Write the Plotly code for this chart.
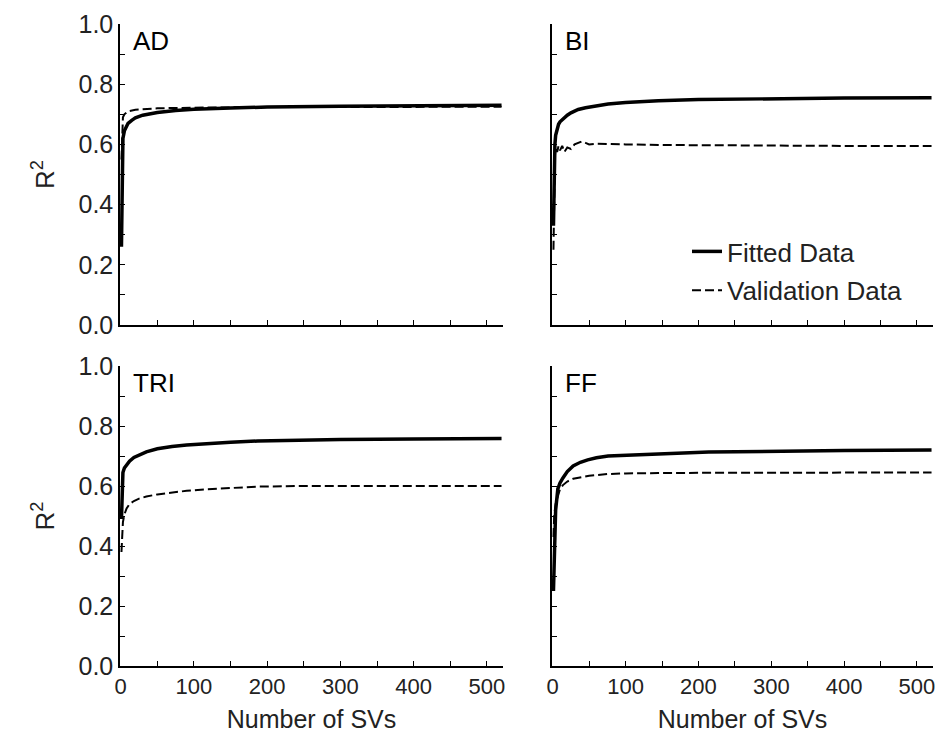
import plotly.graph_objects as go
from plotly.subplots import make_subplots

# values (number of SVs, R^2)
ad_fit_x = [1, 2, 3, 5, 7, 10, 15, 20, 30, 40, 50, 75, 100, 150, 200, 300, 400, 520]
ad_fit = [0.26, 0.50, 0.62, 0.645, 0.658, 0.67, 0.68, 0.688, 0.697, 0.702, 0.706, 0.713, 0.717,
          0.721, 0.724, 0.727, 0.729, 0.730]
ad_val_x = [1, 2, 3, 5, 10, 20, 30, 50, 100, 200, 520]
ad_val = [0.55, 0.66, 0.69, 0.70, 0.71, 0.715, 0.717, 0.72, 0.722, 0.724, 0.725]

bi_fit_x = [1, 2, 3, 4, 6, 8, 10, 14, 20, 25, 30, 35, 45, 60, 76, 100, 145, 200, 300, 400, 520]
bi_fit = [0.33, 0.52, 0.60, 0.63, 0.655, 0.667, 0.675, 0.685, 0.697, 0.705, 0.711, 0.716, 0.722,
          0.729, 0.734, 0.739, 0.745, 0.749, 0.752, 0.754, 0.755]
bi_val_x = [1, 2, 3, 4, 6, 8, 10, 13, 16, 20, 25, 30, 35, 40, 45, 50, 60, 80, 100, 150, 200, 300, 400, 520]
bi_val = [0.25, 0.45, 0.56, 0.59, 0.575, 0.595, 0.58, 0.595, 0.575, 0.59, 0.585, 0.60, 0.605, 0.61,
          0.605, 0.60, 0.602, 0.60, 0.60, 0.598, 0.597, 0.596, 0.595, 0.595]

tri_fit_x = [1, 2, 3, 5, 8, 12, 18, 25, 35, 50, 70, 90, 118, 150, 187, 250, 300, 400, 520]
tri_fit = [0.49, 0.60, 0.645, 0.66, 0.672, 0.683, 0.695, 0.704, 0.714, 0.724, 0.732, 0.737, 0.742,
           0.746, 0.75, 0.753, 0.755, 0.757, 0.758]
tri_val_x = [1, 2, 3, 5, 8, 12, 18, 25, 35, 50, 70, 90, 118, 150, 187, 250, 520]
tri_val = [0.38, 0.45, 0.48, 0.505, 0.525, 0.54, 0.55, 0.558, 0.565, 0.572, 0.579, 0.584, 0.589,
           0.594, 0.598, 0.60, 0.60]

ff_fit_x = [1, 2, 4, 7, 10, 14, 20, 28, 38, 48, 60, 76, 100, 145, 214, 300, 400, 520]
ff_fit = [0.25, 0.40, 0.52, 0.59, 0.61, 0.627, 0.648, 0.667, 0.679, 0.687, 0.694, 0.70, 0.703,
          0.707, 0.713, 0.716, 0.718, 0.72]
ff_val_x = [1, 2, 4, 7, 10, 14, 20, 28, 35, 50, 76, 100, 145, 214, 520]
ff_val = [0.43, 0.50, 0.54, 0.57, 0.59, 0.603, 0.615, 0.624, 0.628, 0.634, 0.64, 0.642, 0.643,
          0.644, 0.645]

panels = [
    ("AD", ad_fit_x, ad_fit, ad_val_x, ad_val, 1, 1),
    ("BI", bi_fit_x, bi_fit, bi_val_x, bi_val, 1, 2),
    ("TRI", tri_fit_x, tri_fit, tri_val_x, tri_val, 2, 1),
    ("FF", ff_fit_x, ff_fit, ff_val_x, ff_val, 2, 2),
]

W, H = 943, 741
FONT = "Liberation Sans, Arial, sans-serif"
TXT = "#222"

fig = make_subplots(rows=2, cols=2)

for i, (name, fx, fy, vx, vy, r, c) in enumerate(panels):
    fig.add_trace(go.Scatter(x=fx, y=fy, mode="lines", name="Fitted Data",
                             line=dict(color="black", width=3.5),
                             legendgroup="fit", showlegend=(i == 0)), row=r, col=c)
    fig.add_trace(go.Scatter(x=vx, y=vy, mode="lines", name="Validation Data",
                             line=dict(color="black", width=2, dash="9px,4px"),
                             legendgroup="val", showlegend=(i == 0)), row=r, col=c)

# panel positions in pixels -> paper fractions
xdom = [(112 / W, 495 / W), (544 / W, 925 / W)]
ydom = [(1 - 317 / H, 1 - 16 / H), (1 - 658 / H, 1 - 358 / H)]

for r in (1, 2):
    for c in (1, 2):
        fig.update_xaxes(domain=xdom[c - 1], range=[-1, 522], showgrid=False, zeroline=False,
                         automargin=False,
                         showline=True, linecolor="black", linewidth=1.5,
                         ticks="inside", ticklen=5, tickcolor="black", dtick=100, tick0=0,
                         minor=dict(ticks="inside", ticklen=5, dtick=50, tickcolor="black"),
                         showticklabels=(r == 2),
                         tickfont=dict(size=22, color=TXT, family=FONT),
                         row=r, col=c)
        fig.update_yaxes(domain=ydom[r - 1], range=[0, 1], showgrid=False, zeroline=False,
                         automargin=False,
                         showline=True, linecolor="black", linewidth=1.5,
                         ticks="inside", ticklen=5, tickcolor="black", dtick=0.2, tick0=0,
                         tickformat=".1f",
                         minor=dict(ticks="inside", ticklen=5, dtick=0.1, tickcolor="black"),
                         showticklabels=(c == 1),
                         tickfont=dict(size=25, color=TXT, family=FONT),
                         row=r, col=c)

# axis titles only where the reference shows them
for c in (1, 2):
    fig.update_xaxes(title=dict(text="Number of SVs", standoff=12,
                                font=dict(size=25, color=TXT, family=FONT)), row=2, col=c)
for r in (1, 2):
    fig.update_yaxes(title=dict(text="R<sup>2</sup>", standoff=16,
                                font=dict(size=26, color=TXT, family=FONT)), row=r, col=1)

for i, (name, fx, fy, vx, vy, r, c) in enumerate(panels):
    k = i + 1
    sfx = str(k) if k > 1 else ""
    fig.add_annotation(text=name, xref=f"x{sfx} domain", yref=f"y{sfx} domain",
                       x=0.03, y=1.0, xanchor="left", yanchor="top", showarrow=False,
                       font=dict(size=26, color="black", family=FONT))

fig.update_layout(
    width=W, height=H,
    margin=dict(l=0, r=0, t=0, b=0),
    plot_bgcolor="white", paper_bgcolor="white",
    font=dict(family=FONT, color=TXT),
    legend=dict(x=679 / W, y=1 - 220 / H, xanchor="left", yanchor="top",
                font=dict(size=26, color=TXT, family=FONT),
                bgcolor="rgba(0,0,0,0)", tracegroupgap=2),
)

fig.write_html("out.html")
